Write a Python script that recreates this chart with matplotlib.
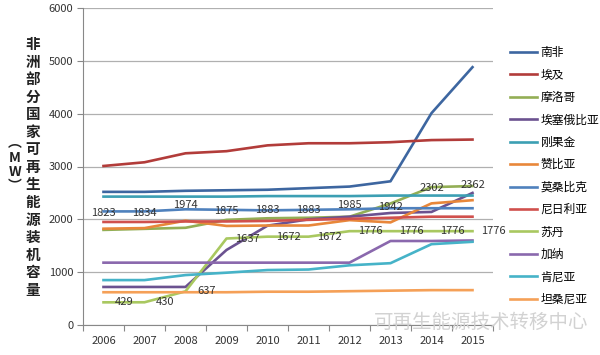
import matplotlib
matplotlib.use('Agg')
import matplotlib.pyplot as plt

plt.rcParams['font.family'] = ['Noto Sans CJK SC', 'DejaVu Sans']

years = [2006, 2007, 2008, 2009, 2010, 2011, 2012, 2013, 2014, 2015]

countries = ['南非', '埃及', '摩洛哥', '埃塞俄比亚', '刚果金', '赞比亚',
             '莫桑比克', '尼日利亚', '苏丹', '加纳', '肯尼亚', '坦桑尼亚']

south_africa = [2520, 2520, 2540, 2550, 2560, 2590, 2620, 2720, 4010, 4880]
egypt = [3010, 3080, 3250, 3290, 3400, 3440, 3440, 3460, 3500, 3510]
morocco = [1800, 1820, 1840, 1990, 2020, 2030, 2050, 2300, 2610, 2630]
ethiopia = [720, 720, 720, 1420, 1880, 2000, 2050, 2120, 2140, 2500]
drc = [2430, 2430, 2430, 2430, 2440, 2440, 2440, 2450, 2450, 2450]
zambia = [1823, 1834, 1974, 1875, 1883, 1883, 1985, 1942, 2302, 2362]
mozambique = [2150, 2150, 2190, 2180, 2170, 2180, 2190, 2210, 2210, 2210]
nigeria = [1950, 1950, 1960, 1960, 1970, 1990, 2010, 2030, 2050, 2050]
sudan = [429, 430, 637, 1637, 1672, 1672, 1776, 1776, 1776, 1776]
ghana = [1180, 1180, 1180, 1180, 1180, 1180, 1180, 1590, 1590, 1600]
kenya = [850, 850, 945, 990, 1040, 1050, 1130, 1170, 1530, 1575]
tanzania = [620, 620, 620, 620, 630, 630, 640, 650, 660, 660]

series = [south_africa, egypt, morocco, ethiopia, drc, zambia,
          mozambique, nigeria, sudan, ghana, kenya, tanzania]

colors = ['#3d66a0', '#b23c3a', '#93ae55', '#6b5290', '#3c9fb3', '#e8873a',
          '#4f81bd', '#d0504d', '#a9c860', '#8a68ad', '#46b3c8', '#f5a057']

fig = plt.figure(figsize=(6, 3.55), dpi=100)
ax = fig.add_axes([83 / 600, 1 - 325 / 355, 410 / 600, 317 / 355])

for name, vals, c in zip(countries, series, colors):
    ax.plot(years, vals, color=c, lw=1.9, label=name)

# data labels: Zambia above its points, Sudan to the right
for x, v in zip(years, zambia):
    ax.annotate(str(v), (x, v), textcoords='offset points', xytext=(0, 11),
                ha='center', va='center', fontsize=8, color='#333333',
                annotation_clip=False)
for x, v in zip(years, sudan):
    ax.annotate(str(v), (x, v), textcoords='offset points', xytext=(15, 0),
                ha='center', va='center', fontsize=8, color='#333333',
                annotation_clip=False)

ax.set_xlim(2005.5, 2015.5)
ax.set_ylim(0, 6000)
ax.set_yticks(range(0, 6001, 1000))
ax.set_xticks([y - 0.5 for y in years] + [2015.5])
ax.set_xticklabels([])
ax.set_xticks(years, minor=True)
ax.set_xticklabels([str(y) for y in years], minor=True)
ax.tick_params(axis='x', which='minor', length=0, pad=8, labelsize=8,
               labelcolor='#333333')
ax.tick_params(axis='x', which='major', length=4, color='#888888')
ax.tick_params(axis='y', length=4, color='#888888', labelsize=8,
               labelcolor='#333333', pad=3)
ax.grid(axis='y', color='#b0b0b0', lw=0.9)
ax.set_axisbelow(True)
for s in ['top', 'right']:
    ax.spines[s].set_visible(False)
ax.spines['left'].set_color('#888888')
ax.spines['bottom'].set_color('#888888')

# vertical y-axis title
title = '非洲部分国家可再生能源装机容量'
fig.text(33 / 600, 1 - 36 / 355, '\n'.join(title), ha='center', va='top',
         fontsize=10.5, fontweight='bold', linespacing=1.12, color='#222222')
fig.text(15 / 600, 1 - 136 / 355, '\n'.join('︵MW︶'), ha='center', va='top',
         fontsize=10, fontweight='bold', linespacing=1.05, color='#222222')

fig.legend(loc='upper left', bbox_to_anchor=(510 / 600, 1 - 46 / 355),
           frameon=False, fontsize=8.5, handlelength=2.3, handletextpad=0.3,
           labelspacing=0.8, borderpad=0, borderaxespad=0)

fig.text(0.98, 1 - 322 / 355, '可再生能源技术转移中心', ha='right', va='center',
         fontsize=14, color='#d2d2d2')

fig.savefig('out.png', dpi=100)
